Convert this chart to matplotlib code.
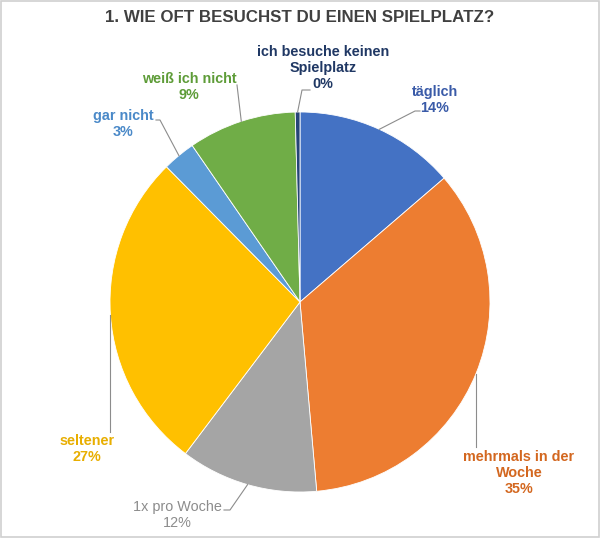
import numpy as np
import matplotlib
matplotlib.use("Agg")
import matplotlib.pyplot as plt
from matplotlib.lines import Line2D
from matplotlib.patches import Rectangle

plt.rcParams["font.family"] = ["Liberation Sans", "DejaVu Sans"]

# data (clockwise from 12 o'clock)
categories = ["täglich", "mehrmals in der\nWoche", "1x pro Woche", "seltener",
              "gar nicht", "weiß ich nicht", "ich besuche keinen\nSpielplatz"]
shares = [13.7, 34.9, 11.7, 27.3, 2.8, 9.2, 0.4]
slice_colors = ["#4472C4", "#ED7D31", "#A5A5A5", "#FFC000",
                "#5B9BD5", "#70AD47", "#264478"]
text_colors = ["#3A5BA8", "#D3671F", "#8C8C8C", "#E8AE00",
               "#4A89C8", "#5E9C38", "#203864"]
bold = [True, True, False, True, True, True, True]

# label layout in pixels (center of text block) and leader elbows
label_pos = [(435, 100), (519, 473), (177, 515), (87, 449),
             (123, 124), (189, 87), (323, 68)]
elbows = [[(415, 111), (420, 111)], [(None, 447)], [(230, 510), (224, 510)],
          [(None, 432)], [(160, 120), (156, 120)], [(237, 85)],
          [(302, 90), (310, 90)]]

W, H = 600, 538
cx, cy, r = 300, 302, 190

fig = plt.figure(figsize=(W / 100, H / 100), dpi=100)
fig.patch.set_facecolor("white")


def fx(x, y):
    return x / W, 1 - y / H


ax = fig.add_axes([(cx - r) / W, (H - cy - r) / H, 2 * r / W, 2 * r / H])
wedges, _ = ax.pie(shares, colors=slice_colors, startangle=90, counterclock=False,
                   radius=1, wedgeprops=dict(edgecolor="white", linewidth=0.6))
ax.set_xlim(-1, 1)
ax.set_ylim(-1, 1)
ax.axis("off")

for i, w in enumerate(wedges):
    mid = np.deg2rad((w.theta1 + w.theta2) / 2)
    ex, ey = cx + r * np.cos(mid), cy - r * np.sin(mid)
    pts = [(ex, ey)]
    for px, py in elbows[i]:
        pts.append((ex if px is None else px, py))
    xs = [fx(p[0], p[1])[0] for p in pts]
    ys = [fx(p[0], p[1])[1] for p in pts]
    fig.add_artist(Line2D(xs, ys, color="#8C8C8C", lw=0.8))

    lx, ly = label_pos[i]
    txt = f"{categories[i]}\n{round(shares[i]):.0f}%"
    fig.text(*fx(lx, ly), txt, ha="center", va="center", multialignment="center",
             fontsize=10.4, color=text_colors[i],
             fontweight="bold" if bold[i] else "normal", linespacing=1.17)

fig.text(*fx(300, 18), "1. WIE OFT BESUCHST DU EINEN SPIELPLATZ?", ha="center",
         va="center", fontsize=12.2, fontweight="bold", color="#404040")

fig.add_artist(Rectangle((0.001, 0.001), 0.998, 0.998, transform=fig.transFigure,
                         fill=False, edgecolor="#D0D0D0", lw=1.2))

fig.savefig("out.png", dpi=100)
